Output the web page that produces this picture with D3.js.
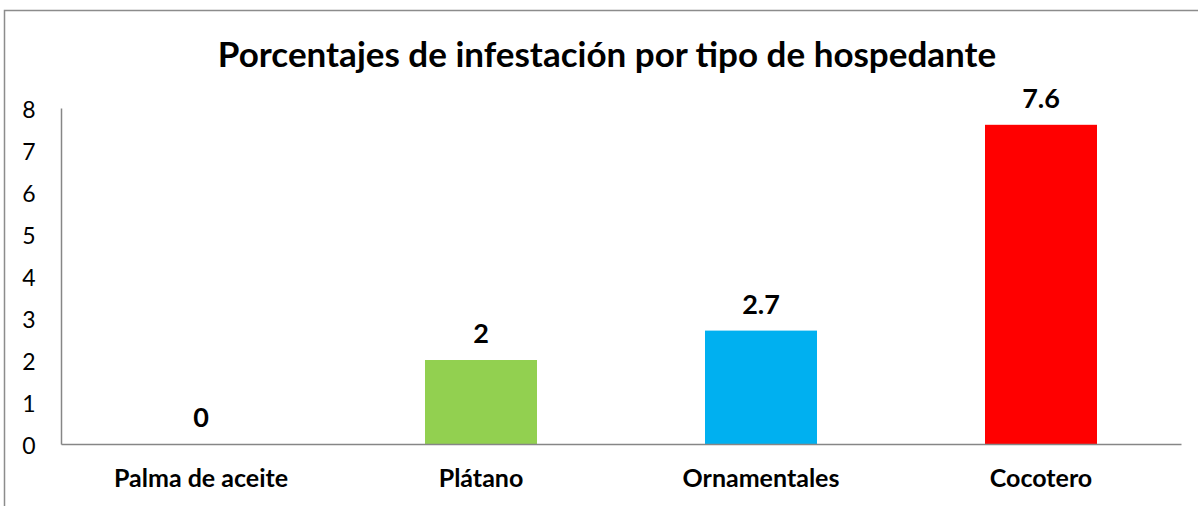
<!DOCTYPE html>
<html>
<head>
<meta charset="utf-8">
<script src="https://cdn.jsdelivr.net/npm/d3@7"></script>
<style>
  body { margin: 0; background: #fff; }
  svg { display: block; }
</style>
</head>
<body>
<div id="container"></div>
<script>
let w = 1198;
let h = 506;

// data
let categories = ["Palma de aceite", "Plátano", "Ornamentales", "Cocotero"];
let values = [0, 2, 2.7, 7.6];
let colors = ["#92d050", "#92d050", "#00b0f0", "#ff0000"];
let yTicks = [0, 1, 2, 3, 4, 5, 6, 7, 8];

let font = "Lato, 'Open Sans', sans-serif";

let viz = d3.select("#container").append("svg")
    .attr("width", w)
    .attr("height", h);

// chart border (clipped at right and bottom)
viz.append("rect")
    .attr("x", 4.5)
    .attr("y", 10.5)
    .attr("width", 1300)
    .attr("height", 600)
    .attr("fill", "none")
    .attr("stroke", "#8c8c8c")
    .attr("stroke-width", 1.5);

let plotL = 61, plotR = 1181, plotT = 108, plotB = 444;

let x = d3.scaleBand()
    .domain(categories)
    .range([plotL, plotR])
    .paddingInner(0.6)
    .paddingOuter(0.3);

let y = d3.scaleLinear()
    .domain([0, 8])
    .range([plotB, plotT]);

// title
viz.append("text")
    .text("Porcentajes de infestación por tipo de hospedante")
    .attr("x", 607)
    .attr("y", 67)
    .attr("text-anchor", "middle")
    .attr("font-size", 35)
    .attr("font-weight", "bold")
    .attr("font-family", font)
    .attr("fill", "#000");

// bars
viz.append("g").selectAll("rect")
    .data(values)
    .join("rect")
    .attr("x", (d, i) => x(categories[i]))
    .attr("y", d => y(d))
    .attr("width", x.bandwidth())
    .attr("height", d => plotB - y(d))
    .attr("fill", (d, i) => colors[i]);

// value labels
viz.append("g").selectAll("text")
    .data(values)
    .join("text")
    .text(d => d)
    .attr("x", (d, i) => x(categories[i]) + x.bandwidth() / 2)
    .attr("y", d => y(d) - 17)
    .attr("text-anchor", "middle")
    .attr("font-size", 27)
    .attr("font-weight", "bold")
    .attr("font-family", font)
    .attr("fill", "#000");

// y axis
let yAxis = viz.append("g")
    .attr("transform", "translate(" + plotL + ",0)")
    .call(d3.axisLeft(y).tickValues(yTicks).tickSize(0));
yAxis.select(".domain").attr("stroke", "#868686").attr("stroke-width", 1.5);
yAxis.selectAll("text")
    .attr("font-size", 23)
    .attr("font-family", font)
    .attr("fill", "#000")
    .attr("text-anchor", "middle")
    .attr("x", -32)
    .attr("dy", "0.4em");

// x axis
let xAxis = viz.append("g")
    .attr("transform", "translate(0," + plotB + ")")
    .call(d3.axisBottom(x).tickSize(0).tickPadding(25));
xAxis.select(".domain").attr("stroke", "#868686").attr("stroke-width", 1.5);
xAxis.selectAll("text")
    .attr("font-size", 25)
    .attr("font-weight", "bold")
    .attr("font-family", font)
    .attr("fill", "#000");
</script>
</body>
</html>
